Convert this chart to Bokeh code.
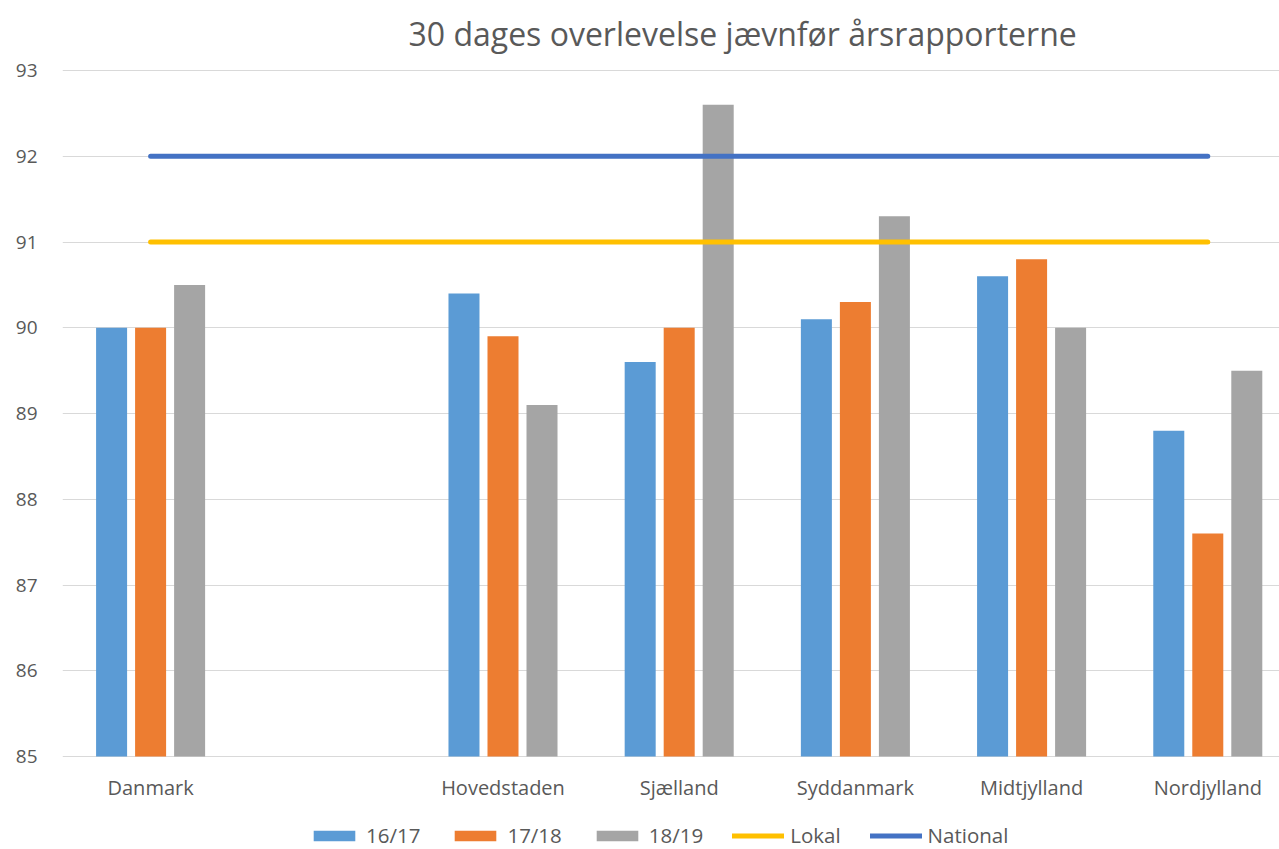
import numpy as np
from bokeh.plotting import figure
from bokeh.models import ColumnDataSource, FixedTicker, Legend, LegendItem
from bokeh.core.properties import value
from bokeh.embed import file_html
from bokeh.resources import INLINE

title_text = "30 dages overlevelse jævnfør årsrapporterne"
categories = ["Danmark", "", "Hovedstaden", "Sjælland", "Syddanmark", "Midtjylland", "Nordjylland"]
v1617 = [90.0, np.nan, 90.4, 89.6, 90.1, 90.6, 88.8]
v1718 = [90.0, np.nan, 89.9, 90.0, 90.3, 90.8, 87.6]
v1819 = [90.5, np.nan, 89.1, 92.6, 91.3, 90.0, 89.5]
lokal = [91, 91, 91, 91, 91, 91, 91]
national = [92, 92, 92, 92, 92, 92, 92]
series_names = ["16/17", "17/18", "18/19"]
y_ticks = [85, 86, 87, 88, 89, 90, 91, 92, 93]
y_min, y_max = 85, 93

FONT = "Open Sans"
TXT = "#595959"

idx = np.arange(len(categories))
# frame covers the whole height; value axis occupies the 686px band from y=70
px_per_unit = 686 / (y_max - y_min)
y_top = y_max + 70 / px_per_unit
y_low = y_max - (849 - 70) / px_per_unit

p = figure(width=1279, height=849, output_backend="svg", toolbar_location=None,
           x_range=(-0.5, 6.407), y_range=(y_low, y_top),
           min_border_left=62, min_border_right=0, min_border_top=0, min_border_bottom=0)
p.outline_line_color = None
p.background_fill_color = "white"
p.border_fill_color = "white"

colors = ["#5B9BD5", "#ED7D31", "#A5A5A5"]
offsets = [-0.2214, 0.0, 0.2214]
bar_renderers = []
for vals, c, off in zip([v1617, v1718, v1819], colors, offsets):
    src = ColumnDataSource(dict(x=idx + off, top=vals))
    r = p.vbar(x="x", top="top", bottom=y_min, width=0.176, source=src,
               fill_color=c, line_color=None)
    bar_renderers.append(r)

rl = p.line(idx, lokal, line_color="#FFC000", line_width=5, line_cap="round")
rn = p.line(idx, national, line_color="#4472C4", line_width=5, line_cap="round")

# title
p.text(x=[3.36], y=[y_max], text=[title_text], text_align="center",
       text_baseline="alphabetic", y_offset=-37, text_font=value(FONT),
       text_font_size="32px", text_color=TXT)

# category labels
lab_idx = [int(i) for i in idx if categories[i]]
lab_src = ColumnDataSource(dict(x=lab_idx, y=[y_min] * len(lab_idx),
                                t=[categories[i] for i in lab_idx]))
p.text(x="x", y="y", text="t", source=lab_src, text_align="center",
       text_baseline="middle", y_offset=31, text_font=value(FONT),
       text_font_size="20px", text_color=TXT)

p.xaxis.visible = False

p.yaxis.ticker = FixedTicker(ticks=y_ticks)
p.yaxis.axis_line_color = None
p.yaxis.major_tick_line_color = None
p.yaxis.minor_tick_line_color = None
p.yaxis.major_label_standoff = 19
p.yaxis.major_label_text_font = FONT
p.yaxis.major_label_text_font_size = "19px"
p.yaxis.major_label_text_color = TXT

p.xgrid.grid_line_color = None
p.ygrid.ticker = FixedTicker(ticks=y_ticks)
p.ygrid.grid_line_color = "#D9D9D9"
p.ygrid.grid_line_width = 1

items = [LegendItem(label=n, renderers=[r]) for n, r in zip(series_names, bar_renderers)]
items += [LegendItem(label="Lokal", renderers=[rl]), LegendItem(label="National", renderers=[rn])]
legend = Legend(items=items, orientation="horizontal", location=(246, 0),
                glyph_width=52, glyph_height=13, label_standoff=6, spacing=29,
                padding=0, margin=0, border_line_color=None, background_fill_alpha=0,
                label_text_font=FONT, label_text_font_size="20.5px", label_text_color=TXT)
p.add_layout(legend, "center")

open("out.html", "w").write(file_html(p, INLINE))
